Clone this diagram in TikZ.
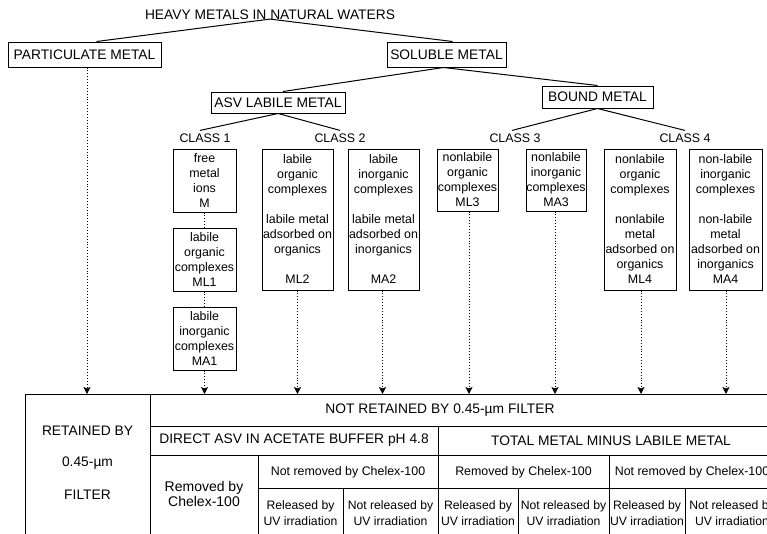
\documentclass[tikz,border=0pt]{standalone}
\usepackage{fontspec}
\setmainfont{Liberation Sans}
\usetikzlibrary{arrows.meta}
\newcommand\fbig{\fontsize{13.8}{16}\selectfont}
\newcommand\fsm{\fontsize{12.4}{15}\selectfont}
\newcommand\fuv{\fontsize{12.2}{16}\selectfont}
\newcommand\frem{\fontsize{14}{15}\selectfont}
\tikzset{
  boxn/.style={draw, line width=1pt, inner sep=0pt, align=center},
  txt/.style={inner sep=0pt, align=center},
  link/.style={line width=1pt},
  dots/.style={dotted, line width=0.9pt, -{Stealth[length=7pt,width=7pt,inset=1.5pt]}},
  dotsn/.style={dotted, line width=0.9pt},
  tline/.style={line width=1pt}
}
\begin{document}
\begin{tikzpicture}[x=1pt,y=-1pt]
\useasboundingbox (0,0) rectangle (767,533);
\clip (0,0) rectangle (767,533);
\fill[white] (0,0) rectangle (767,533);
% top hierarchy
\node[txt, font=\fbig] (title) at (270,15) {HEAVY METALS IN NATURAL WATERS};
\node[boxn, font=\fbig, minimum width=153pt, minimum height=25pt] (part) at (84.5,54.5) {PARTICULATE METAL};
\node[boxn, font=\fbig, minimum width=119pt, minimum height=25pt] (sol) at (446.5,54.5) {SOLUBLE METAL};
\node[boxn, font=\fbig, minimum width=134pt, minimum height=21pt] (asv) at (278,102.5) {ASV LABILE METAL};
\node[boxn, font=\fbig, minimum width=111pt, minimum height=22pt] (bound) at (597.5,97) {BOUND METAL};
\node[txt, font=\fsm, inner sep=3pt] (c1) at (205,138) {CLASS 1};
\node[txt, font=\fsm, inner sep=3pt] (c2) at (340,138) {CLASS 2};
\node[txt, font=\fsm, inner sep=3pt] (c3) at (515,138) {CLASS 3};
\node[txt, font=\fsm, inner sep=3pt] (c4) at (685,138) {CLASS 4};
\draw[link] ([yshift=1pt]title.south) -- ([xshift=12pt]part.north);
\draw[link] ([yshift=1pt]title.south) -- ([xshift=6pt]sol.north);
\draw[link] ([xshift=-3pt]sol.south) -- ([xshift=5pt]asv.north);
\draw[link] ([xshift=-3pt]sol.south) -- (bound.north);
\draw[link] (asv.south) -- ([xshift=-5pt]c1.north);
\draw[link] (asv.south) -- ([xshift=0pt]c2.north);
\draw[link] (bound.south) -- ([xshift=-3pt]c3.north);
\draw[link] (bound.south) -- ([xshift=0pt]c4.north);
% species boxes
\node[boxn, font=\fsm, minimum width=63pt, minimum height=63pt] (m) at (204.5,180.5) {free\\metal\\ions\\M};
\node[boxn, font=\fsm, minimum width=63pt, minimum height=63pt] (ml1) at (204.5,259.5) {labile\\organic\\complexes\\ML1};
\node[boxn, font=\fsm, minimum width=63pt, minimum height=63pt] (ma1) at (204.5,338.5) {labile\\inorganic\\complexes\\MA1};
\node[boxn, font=\fsm, minimum width=71pt, minimum height=141pt] (ml2) at (297.5,219.5) {labile\\organic\\complexes\\[15pt]labile metal\\adsorbed on\\organics\\[15pt]ML2};
\node[boxn, font=\fsm, minimum width=71pt, minimum height=141pt] (ma2) at (383.5,219.5) {labile\\inorganic\\complexes\\[15pt]labile metal\\adsorbed on\\inorganics\\[15pt]MA2};
\node[boxn, font=\fsm, minimum width=61pt, minimum height=62pt] (ml3) at (467.5,180) {nonlabile\\organic\\complexes\\ML3};
\node[boxn, font=\fsm, minimum width=60pt, minimum height=62pt] (ma3) at (556,180) {nonlabile\\inorganic\\complexes\\MA3};
\node[boxn, font=\fsm, minimum width=72pt, minimum height=141pt] (ml4) at (640,219.5) {nonlabile\\organic\\complexes\\[15pt]nonlabile\\metal\\adsorbed on\\organics\\ML4};
\node[boxn, font=\fsm, minimum width=73pt, minimum height=141pt] (ma4) at (725.5,219.5) {non-labile\\inorganic\\complexes\\[15pt]non-labile\\metal\\adsorbed on\\inorganics\\MA4};
% table top reference
\coordinate (tt) at (0,394);
\coordinate (pt1) at (87,394);
\draw[dotsn] (m.south) -- (ml1.north);
\draw[dotsn] (ml1.south) -- (ma1.north);
\draw[dots] (part.south -| pt1) -- (pt1);
\draw[dots] (ma1.south) -- (ma1.south |- tt);
\draw[dots] (ml2.south) -- (ml2.south |- tt);
\draw[dots] ([xshift=-1pt]ma2.south) -- ([xshift=-1pt]ma2.south |- tt);
\draw[dots] ([xshift=1.5pt]ml3.south) -- ([xshift=1.5pt]ml3.south |- tt);
\draw[dots] ([xshift=-1pt]ma3.south) -- ([xshift=-1pt]ma3.south |- tt);
\draw[dots] ([xshift=1pt]ml4.south) -- ([xshift=1pt]ml4.south |- tt);
\draw[dots] ([xshift=0.5pt]ma4.south) -- ([xshift=0.5pt]ma4.south |- tt);
% table lines
\draw[tline] (25,540) -- (25,394) -- (790,394);
\draw[tline] (150,394) -- (150,540);
\draw[tline] (150,426) -- (790,426);
\draw[tline] (150,455) -- (790,455);
\draw[tline] (438,426) -- (438,540);
\draw[tline] (258,455) -- (258,540);
\draw[tline] (258,488) -- (790,488);
\draw[tline] (343,488) -- (343,540);
\draw[tline] (518,488) -- (518,540);
\draw[tline] (609,455) -- (609,540);
\draw[tline] (685,488) -- (685,540);
% table texts
\node[txt, font=\fbig] (r1) at (87.5,431) {RETAINED BY};
\node[txt, font=\fbig] (r2) at (87.5,463) {0.45-µm};
\node[txt, font=\fbig] (r3) at (87.5,495) {FILTER};
\node[txt, font=\fbig] (nr) at (440,410) {NOT RETAINED BY 0.45-µm FILTER};
\node[txt, font=\fbig] (dasv) at (294,440.5) {DIRECT ASV IN ACETATE BUFFER pH 4.8};
\node[txt, font=\fbig] (tot) at (611,440.5) {TOTAL METAL MINUS LABILE METAL};
\node[txt, font=\frem] (rem1) at (204,494) {Removed by\\Chelex-100};
\node[txt, font=\fsm] (nrem1) at (348,472) {Not removed by Chelex-100};
\node[txt, font=\fsm] (rem2) at (523.5,472) {Removed by Chelex-100};
\node[txt, font=\fsm] (nrem2) at (692,472) {Not removed by Chelex-100};
\node[txt, font=\fuv] (u1) at (300.5,513) {Released by\\UV irradiation};
\node[txt, font=\fuv] (u2) at (390.5,513) {Not released by\\UV irradiation};
\node[txt, font=\fuv] (u3) at (478,513) {Released by\\UV irradiation};
\node[txt, font=\fuv] (u4) at (563.5,513) {Not released by\\UV irradiation};
\node[txt, font=\fuv] (u5) at (647,513) {Released by\\UV irradiation};
\node[txt, font=\fuv] (u6) at (732,513) {Not released by\\UV irradiation};
\end{tikzpicture}
\end{document}
